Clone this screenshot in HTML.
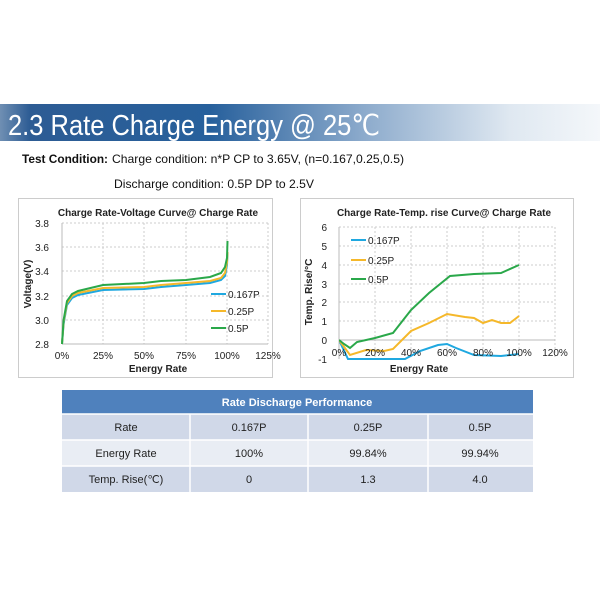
<!DOCTYPE html>
<html><head><style>
body{margin:0;background:#fff;width:600px;height:600px;overflow:hidden;font-family:"Liberation Sans",sans-serif}
</style></head><body>
<svg width="600" height="600" xmlns="http://www.w3.org/2000/svg" font-family="Liberation Sans, sans-serif">
<defs>
<linearGradient id="hg" x1="0" x2="1" y1="0" y2="0">
<stop offset="0" stop-color="#6f8fb3"/><stop offset="0.05" stop-color="#2d5c94"/><stop offset="0.35" stop-color="#27609c"/><stop offset="0.6" stop-color="#8aa9cb"/><stop offset="0.85" stop-color="#dfe8f1"/><stop offset="1" stop-color="#f4f7fa"/>
</linearGradient>
<clipPath id="cr"><rect x="339" y="225" width="220" height="135"/></clipPath>
</defs>
<rect x="0" y="104" width="600" height="37" fill="url(#hg)"/>
<text x="8" y="135" font-size="29" fill="#fff" textLength="372" lengthAdjust="spacingAndGlyphs">2.3 Rate Charge Energy @ 25℃</text>
<text x="22" y="163" font-size="12" font-weight="bold" fill="#111" textLength="86" lengthAdjust="spacingAndGlyphs">Test Condition:</text>
<text x="112" y="163" font-size="12" fill="#111" textLength="292" lengthAdjust="spacingAndGlyphs">Charge condition: n*P CP to 3.65V, (n=0.167,0.25,0.5)</text>
<text x="114" y="188" font-size="12" fill="#111" textLength="200" lengthAdjust="spacingAndGlyphs">Discharge condition: 0.5P DP to 2.5V</text>

<!-- left chart -->
<rect x="18.5" y="198.5" width="254" height="179" fill="#fff" stroke="#ccc"/>
<text x="158" y="216" font-size="10" font-weight="bold" text-anchor="middle" fill="#222">Charge Rate-Voltage Curve@ Charge Rate</text>
<g stroke="#ccc" stroke-dasharray="2,2">
<line x1="62" x2="268" y1="223" y2="223"/><line x1="62" x2="268" y1="247" y2="247"/><line x1="62" x2="268" y1="271" y2="271"/><line x1="62" x2="268" y1="296" y2="296"/><line x1="62" x2="268" y1="320" y2="320"/>
<line x1="103" x2="103" y1="223" y2="344"/><line x1="144" x2="144" y1="223" y2="344"/><line x1="186" x2="186" y1="223" y2="344"/><line x1="227" x2="227" y1="223" y2="344"/><line x1="268" x2="268" y1="223" y2="344"/>
</g>
<line x1="62" x2="268" y1="344" y2="344" stroke="#bbb"/>
<line x1="62" x2="62" y1="223" y2="344" stroke="#bbb"/>
<g font-size="10" fill="#222" text-anchor="end">
<text x="49" y="227">3.8</text><text x="49" y="251">3.6</text><text x="49" y="275">3.4</text><text x="49" y="300">3.2</text><text x="49" y="324">3.0</text><text x="49" y="348">2.8</text>
</g>
<g font-size="10" fill="#222" text-anchor="middle">
<text x="62" y="359">0%</text><text x="103" y="359">25%</text><text x="144" y="359">50%</text><text x="186" y="359">75%</text><text x="227" y="359">100%</text><text x="268" y="359">125%</text>
</g>
<text x="158" y="372" font-size="10" font-weight="bold" text-anchor="middle" fill="#222">Energy Rate</text>
<text transform="translate(31,284) rotate(-90)" font-size="10" font-weight="bold" text-anchor="middle" fill="#222">Voltage(V)</text>
<g fill="none" stroke-width="2">
<polyline stroke="#1fa8e0" points="62,344 63.6,324 67,305 72,298 78,295 103,290 144,289 161,287 186,285 210,283 221,280 225,276 227,265 227.5,253"/>
<polyline stroke="#f5b82a" points="62,344 63.6,322 67,303 72,296 78,293 103,288 144,287 161,285 186,283 210,281 221,278 225,273 227,262 227.5,252"/>
<polyline stroke="#2aa84a" points="62,344 63.6,320 67,301 72,294 78,291 103,285 144,283 161,281 186,280 210,277 221,273 225,267 227,258 227.5,241"/>
</g>
<g font-size="10" fill="#222">
<line x1="211" x2="226" y1="294" y2="294" stroke="#1fa8e0" stroke-width="2"/><text x="228" y="298">0.167P</text>
<line x1="211" x2="226" y1="311" y2="311" stroke="#f5b82a" stroke-width="2"/><text x="228" y="315">0.25P</text>
<line x1="211" x2="226" y1="328" y2="328" stroke="#2aa84a" stroke-width="2"/><text x="228" y="332">0.5P</text>
</g>

<!-- right chart -->
<rect x="300.5" y="198.5" width="273" height="179" fill="#fff" stroke="#ccc"/>
<text x="444" y="216" font-size="10" font-weight="bold" text-anchor="middle" fill="#222">Charge Rate-Temp. rise Curve@ Charge Rate</text>
<g stroke="#ccc" stroke-dasharray="2,2">
<line x1="339" x2="555" y1="227" y2="227"/><line x1="339" x2="555" y1="246" y2="246"/><line x1="339" x2="555" y1="265" y2="265"/><line x1="339" x2="555" y1="284" y2="284"/><line x1="339" x2="555" y1="302" y2="302"/><line x1="339" x2="555" y1="321" y2="321"/>
<line x1="375" x2="375" y1="227" y2="359"/><line x1="411" x2="411" y1="227" y2="359"/><line x1="447" x2="447" y1="227" y2="359"/><line x1="483" x2="483" y1="227" y2="359"/><line x1="519" x2="519" y1="227" y2="359"/><line x1="555" x2="555" y1="227" y2="359"/>
</g>
<line x1="339" x2="555" y1="340" y2="340" stroke="#bbb"/>
<line x1="339" x2="339" y1="227" y2="359" stroke="#bbb"/>
<g font-size="10" fill="#222" text-anchor="end">
<text x="327" y="231">6</text><text x="327" y="250">5</text><text x="327" y="269">4</text><text x="327" y="288">3</text><text x="327" y="306">2</text><text x="327" y="325">1</text><text x="327" y="344">0</text><text x="327" y="363">-1</text>
</g>
<g fill="none" stroke-width="2" clip-path="url(#cr)">
<polyline stroke="#1fa8e0" points="339,340 348,359 405,359 420,351 438,345 447,344 456,348 474,355 501,356 519,354"/>
<polyline stroke="#f5b82a" points="339,340 350,355 366,350 384,351 393,349 411,331 429,323 447,314 465,317 474,318 483,323 492,320 501,323 510,323 519,316"/>
<polyline stroke="#2aa84a" points="339,340 344,344 350,348 357,342 375,338 393,333 411,310 429,293 450,276 474,274 501,273 519,265"/>
</g>
<g font-size="10" fill="#222" text-anchor="middle">
<text x="339" y="356">0%</text><text x="375" y="356">20%</text><text x="411" y="356">40%</text><text x="447" y="356">60%</text><text x="483" y="356">80%</text><text x="519" y="356">100%</text><text x="555" y="356">120%</text>
</g>
<text x="419" y="372" font-size="10" font-weight="bold" text-anchor="middle" fill="#222">Energy Rate</text>
<text transform="translate(312,292) rotate(-90)" font-size="10" font-weight="bold" text-anchor="middle" fill="#222">Temp. Rise/°C</text>
<g font-size="10" fill="#222">
<line x1="351" x2="366" y1="240" y2="240" stroke="#1fa8e0" stroke-width="2"/><text x="368" y="244">0.167P</text>
<line x1="351" x2="366" y1="260" y2="260" stroke="#f5b82a" stroke-width="2"/><text x="368" y="264">0.25P</text>
<line x1="351" x2="366" y1="279" y2="279" stroke="#2aa84a" stroke-width="2"/><text x="368" y="283">0.5P</text>
</g>

<!-- table -->
<rect x="62" y="390" width="471" height="24" fill="#4f81bd"/>
<text x="297" y="406" font-size="11" font-weight="bold" fill="#fff" text-anchor="middle">Rate Discharge Performance</text>
<rect x="62" y="414" width="471" height="26" fill="#d0d8e8"/>
<rect x="62" y="440" width="471" height="26" fill="#e9edf4"/>
<rect x="62" y="466" width="471" height="26" fill="#d0d8e8"/>
<g stroke="#fff" stroke-width="1.5">
<line x1="62" x2="533" y1="414" y2="414"/><line x1="62" x2="533" y1="440" y2="440"/><line x1="62" x2="533" y1="466" y2="466"/>
<line x1="190" x2="190" y1="414" y2="492"/><line x1="308" x2="308" y1="414" y2="492"/><line x1="428" x2="428" y1="414" y2="492"/>
</g>
<g font-size="11" fill="#222" text-anchor="middle">
<text x="126" y="431">Rate</text><text x="249" y="431">0.167P</text><text x="368" y="431">0.25P</text><text x="480" y="431">0.5P</text>
<text x="126" y="457">Energy Rate</text><text x="249" y="457">100%</text><text x="368" y="457">99.84%</text><text x="480" y="457">99.94%</text>
<text x="126" y="483">Temp. Rise(℃)</text><text x="249" y="483">0</text><text x="368" y="483">1.3</text><text x="480" y="483">4.0</text>
</g>
</svg>
</body></html>
